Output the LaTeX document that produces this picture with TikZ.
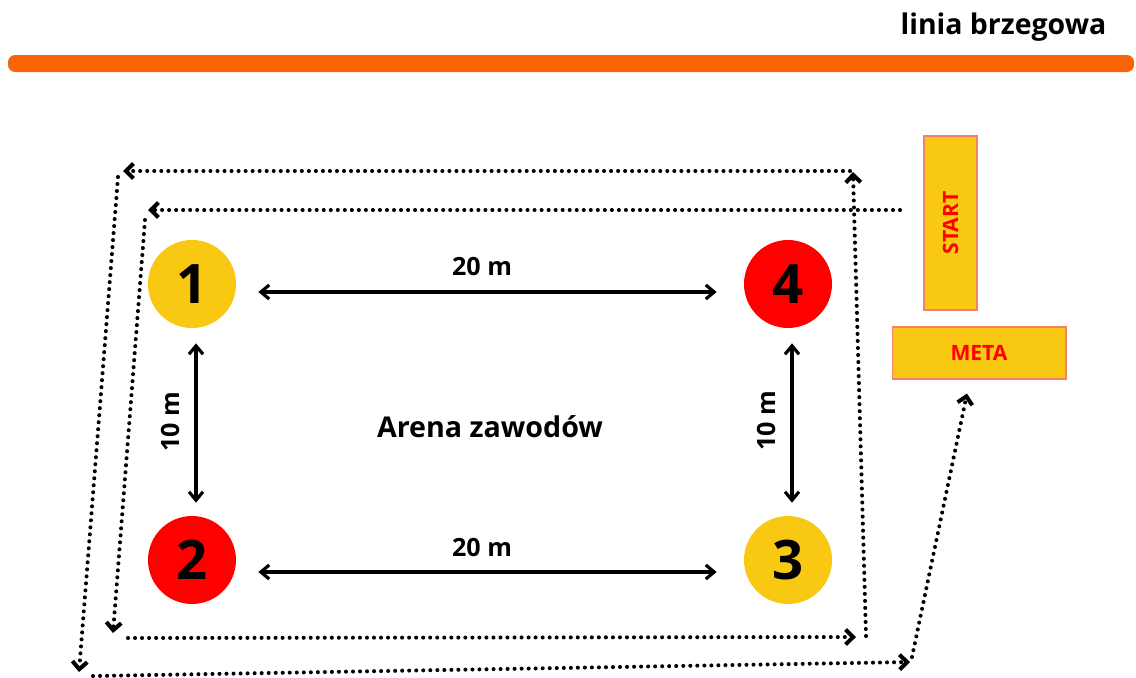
\documentclass[tikz,border=0pt]{standalone}
\usepackage{fontspec}
\setmainfont{Open Sans}
\usetikzlibrary{arrows.meta,calc}

\definecolor{medal}{HTML}{F8C812}
\definecolor{flagred}{HTML}{FF0000}
\definecolor{shore}{HTML}{F96406}
\definecolor{boxedge}{HTML}{F2806A}

\begin{document}
\begin{tikzpicture}[x=0.02cm,y=-0.02cm,
  spot/.style={circle, minimum size=1.76cm, inner sep=0pt,
    font=\bfseries\fontsize{31}{31}\selectfont},
  dim/.style={line width=1.8pt,
    {Straight Barb[length=4.8pt,width=8pt]}-{Straight Barb[length=4.8pt,width=8pt]}},
  route/.style={line width=2.3pt, dash pattern=on 0pt off 4pt, line cap=round,
    -{Straight Barb[length=4.3pt,width=8.5pt]}},
  lbl/.style={font=\bfseries\fontsize{14.3}{14.3}\selectfont, inner sep=0pt},
  panel/.style={draw=boxedge, line width=0.6pt, fill=medal, text=flagred, inner sep=0pt,
    font=\bfseries\fontsize{12}{12}\selectfont},
]
\useasboundingbox (0,0) rectangle (1136,677);

% shoreline
\fill[shore, rounded corners=4pt] (8,55) rectangle (1134,72);
\node[font=\bfseries\fontsize{16.2}{16.2}\selectfont, inner sep=0pt, anchor=base]
  (shoretxt) at (1003.5,34.3) {linia brzegowa};

% buoys
\node[spot, fill=medal]   (c1) at (192,284) {1};
\node[spot, fill=flagred] (c4) at (788,284) {4};
\node[spot, fill=flagred] (c2) at (192,560) {2};
\node[spot, fill=medal]   (c3) at (788,560) {3};

% distances
\draw[dim] ($(c1.east)+(22,8)$) -- ($(c4.west)+(-27,8)$);
\draw[dim] ($(c2.east)+(22,12)$) -- ($(c3.west)+(-27,12)$);
\draw[dim] ($(c1.south)+(4,15)$) -- ($(c2.north)+(4,-13)$);
\draw[dim] ($(c4.south)+(4,15)$) -- ($(c3.north)+(4,-13)$);
\node[lbl, anchor=base] (d14) at (482,275) {20 m};
\node[lbl, anchor=base] (d23) at (482,556) {20 m};
\node[lbl, rotate=90] (d12) at (170.5,422) {10 m};
\node[lbl, rotate=90] (d43) at (767,421) {10 m};

\node[font=\bfseries\fontsize{16.3}{16.3}\selectfont, inner sep=0pt, anchor=base]
  (arena) at (490,437) {Arena zawodów};

% start and finish
\node[panel, rotate=90, minimum width=3.48cm, minimum height=1.06cm]
  (start) at (950.5,223) {START};
\node[panel, minimum width=3.48cm, minimum height=1.04cm]
  (meta) at (979,353) {META};

% course
\coordinate (a0) at (900,210);
\coordinate (a1) at (148,210);
\coordinate (b0) at (145,220);
\coordinate (b1) at (113,633);
\coordinate (e0) at (128,638);
\coordinate (e1) at (856,637);
\coordinate (f0) at (866,636);
\coordinate (f1) at (853,172);
\coordinate (g0) at (850,171);
\coordinate (g1) at (123,171);
\coordinate (h0) at (118,177);
\coordinate (h1) at (79,672);
\coordinate (k0) at (93,676);
\coordinate (k1) at (910,662);
\coordinate (m0) at (912,657);

\draw[route] (a0) -- (a1);
\draw[route] (b0) -- (b1);
\draw[route] (e0) -- (e1);
\draw[route] (f0) -- (f1);
\draw[route] (g0) -- (g1);
\draw[route] (h0) -- (h1);
\draw[route] (k0) -- (k1);
\draw[route] (m0) -- ($(meta.south)+(-12,14)$);
\end{tikzpicture}
\end{document}
